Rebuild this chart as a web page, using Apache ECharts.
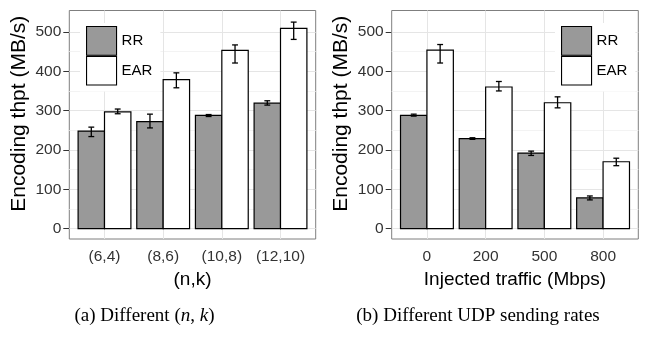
<!DOCTYPE html>
<html lang="en">
  <head>
    <meta charset="UTF-8" />
    <title>Encoding throughput</title>
    <script src="https://cdn.jsdelivr.net/npm/echarts@6/dist/echarts.min.js"></script>
    <style>
      html,
      body {
        margin: 0;
        padding: 0;
        background: #fff;
      }
      #chart {
        width: 660px;
        height: 337px;
      }
    </style>
  </head>
  <body>
    <div id="chart"></div>
    <script>
      // panel (a): different (n,k)
      const catsA = ["(6,4)", "(8,6)", "(10,8)", "(12,10)"];
      const rrA = [248, 272, 288, 319];
      const rrLoA = [234, 256, 285, 314];
      const rrHiA = [258, 291, 290, 325];
      const earA = [297, 379, 453, 509];
      const earLoA = [292, 358, 421, 481];
      const earHiA = [304, 396, 467, 525];

      // panel (b): injected UDP traffic
      const catsB = ["0", "200", "500", "800"];
      const rrB = [288, 229, 192, 78];
      const rrLoB = [286, 227, 186, 73];
      const rrHiB = [291, 231, 197, 83];
      const earB = [454, 360, 320, 170];
      const earLoB = [421, 350, 307, 160];
      const earHiB = [468, 374, 335, 179];

      const yTicks = [0, 100, 200, 300, 400, 500];
      const yMinor = [50, 150, 250, 350, 450];
      const xTicks = [1, 2, 3, 4];

      const font = "Liberation Sans";
      const chart = echarts.init(document.getElementById("chart"));

      function rows(vals, lo, hi) {
        return vals.map((v, i) => [i + 1, v, lo[i], hi[i]]);
      }

      // side -1 = left half of the dodge, 0 = right half
      function barRender(side) {
        return function (params, api) {
          const x = api.value(0);
          const x0 = side < 0 ? x - 0.45 : x;
          const xc = x0 + 0.225;
          const base = api.coord([x0, 0]);
          const top = api.coord([x0 + 0.45, api.value(1)]);
          const lo = api.coord([xc, api.value(2)]);
          const hi = api.coord([xc, api.value(3)]);
          const cap = api.size([0.1, 0])[0] / 2;
          const line = { stroke: "#000", lineWidth: 1.3 };
          return {
            type: "group",
            children: [
              {
                type: "rect",
                shape: { x: base[0], y: top[1], width: top[0] - base[0], height: base[1] - top[1] },
                style: { fill: api.visual("color"), stroke: "#000", lineWidth: 1.2 },
              },
              { type: "line", shape: { x1: lo[0], y1: lo[1], x2: hi[0], y2: hi[1] }, style: line },
              { type: "line", shape: { x1: lo[0] - cap, y1: lo[1], x2: lo[0] + cap, y2: lo[1] }, style: line },
              { type: "line", shape: { x1: hi[0] - cap, y1: hi[1], x2: hi[0] + cap, y2: hi[1] }, style: line },
            ],
          };
        };
      }

      const gridLines = {
        silent: true,
        symbol: ["none", "none"],
        label: { show: false },
        z: 1,
        animation: false,
        data: [
          ...yMinor.map((v) => ({ yAxis: v, lineStyle: { color: "#f3f3f3", width: 1, type: "solid" } })),
          ...yTicks.map((v) => ({ yAxis: v, lineStyle: { color: "#e5e5e5", width: 1, type: "solid" } })),
          ...xTicks.map((v) => ({ xAxis: v, lineStyle: { color: "#e5e5e5", width: 1, type: "solid" } })),
        ],
      };

      function xAxisFor(idx, cats, title) {
        return {
          type: "value",
          gridIndex: idx,
          min: 0.4,
          max: 4.6,
          name: title,
          nameLocation: "middle",
          nameGap: 28,
          nameTextStyle: { fontFamily: font, fontSize: 19, color: "#000" },
          axisLine: { show: false },
          splitLine: { show: false },
          axisTick: { customValues: xTicks, length: 6, lineStyle: { color: "#333", width: 1 } },
          axisLabel: {
            customValues: xTicks,
            margin: 10,
            fontFamily: font,
            fontSize: 15.5,
            color: "#333",
            formatter: (v) => cats[v - 1],
          },
        };
      }

      function yAxisFor(idx) {
        return {
          type: "value",
          gridIndex: idx,
          min: -26.4,
          max: 554.5,
          name: "Encoding thpt (MB/s)",
          nameLocation: "middle",
          nameGap: 40,
          nameTextStyle: { fontFamily: font, fontSize: 21, color: "#000", padding: [0, 0, 0, 22] },
          axisLine: { show: false },
          splitLine: { show: false },
          axisTick: { customValues: yTicks, length: 6, lineStyle: { color: "#333", width: 1 } },
          axisLabel: { customValues: yTicks, margin: 8, fontFamily: font, fontSize: 15.5, color: "#333" },
        };
      }

      function legendFor(left) {
        return {
          orient: "vertical",
          left: left,
          top: 23,
          padding: [3, 8, 6, 6],
          backgroundColor: "#fff",
          itemWidth: 30,
          itemHeight: 28.7,
          itemGap: 0,
          icon: "rect",
          itemStyle: { borderColor: "#000", borderWidth: 1.1 },
          data: ["RR", "EAR"],
          textStyle: { fontFamily: font, fontSize: 15, color: "#000" },
          selectedMode: false,
        };
      }

      function seriesFor(idx, name, color, side, data, withLines) {
        const s = {
          name: name,
          type: "custom",
          xAxisIndex: idx,
          yAxisIndex: idx,
          z: 3,
          itemStyle: { color: color, borderColor: "#000", borderWidth: 1.2 },
          renderItem: barRender(side),
          data: data,
        };
        if (withLines) s.markLine = gridLines;
        return s;
      }

      const option = {
        animation: false,
        textStyle: { fontFamily: font },
        grid: [
          { left: 69.3, top: 10.5, width: 246.4, height: 228.5, show: true, borderColor: "#7f7f7f", borderWidth: 1, backgroundColor: "#fff" },
          { left: 391.7, top: 10.5, width: 246.6, height: 228.5, show: true, borderColor: "#7f7f7f", borderWidth: 1, backgroundColor: "#fff" },
        ],
        xAxis: [xAxisFor(0, catsA, "(n,k)"), xAxisFor(1, catsB, "Injected traffic (Mbps)")],
        yAxis: [yAxisFor(0), yAxisFor(1)],
        legend: [legendFor(80), legendFor(555)],
        series: [
          seriesFor(0, "RR", "#999999", -1, rows(rrA, rrLoA, rrHiA), true),
          seriesFor(0, "EAR", "#ffffff", 0, rows(earA, earLoA, earHiA), false),
          seriesFor(1, "RR", "#999999", -1, rows(rrB, rrLoB, rrHiB), true),
          seriesFor(1, "EAR", "#ffffff", 0, rows(earB, earLoB, earHiB), false),
        ],
        graphic: [
          {
            type: "text",
            x: 144.5,
            y: 316,
            style: {
              text: "(a) Different ({i|n}, {i|k})",
              fontFamily: "Liberation Serif",
              fontSize: 19,
              fill: "#000",
              align: "center",
              verticalAlign: "middle",
              rich: { i: { fontFamily: "Liberation Serif", fontSize: 19, fontStyle: "italic", fill: "#000" } },
            },
          },
          {
            type: "text",
            x: 478,
            y: 316,
            style: {
              text: "(b) Different UDP sending rates",
              fontFamily: "Liberation Serif",
              fontSize: 19,
              fill: "#000",
              align: "center",
              verticalAlign: "middle",
            },
          },
        ],
      };

      chart.setOption(option);
    </script>
  </body>
</html>
